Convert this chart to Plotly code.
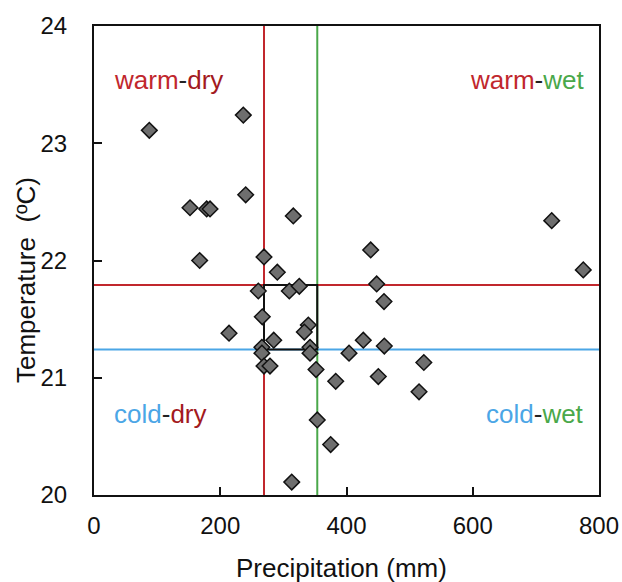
import plotly.graph_objects as go

precip = [87.6, 236.5, 240.3, 152.1, 178.5, 183.8, 315.7, 167.4, 269.3, 290.4,
          438.3, 260.3, 309.4, 325.2, 447.8, 459.4, 266.6, 213.9, 339.5, 333.2,
          284.7, 426.6, 459.9, 266.0, 266.0, 342.2, 342.2, 404.0, 269.3, 278.8,
          351.7, 522.5, 450.4, 382.9, 514.9, 353.7, 374.9, 313.2, 725.1, 775.1]
temp = [23.11, 23.24, 22.56, 22.45, 22.44, 22.44, 22.38, 22.00, 22.03, 21.90,
        22.09, 21.74, 21.74, 21.78, 21.80, 21.65, 21.52, 21.38, 21.45, 21.39,
        21.32, 21.32, 21.27, 21.26, 21.21, 21.26, 21.21, 21.21, 21.10, 21.10,
        21.07, 21.13, 21.01, 20.97, 20.88, 20.64, 20.43, 20.11, 22.34, 21.92]

p_dry = 269.3   # precipitation threshold (dry)
p_wet = 353.7   # precipitation threshold (wet)
t_warm = 21.79  # temperature threshold (warm)
t_cold = 21.24  # temperature threshold (cold)

x_ticks = [0, 200, 400, 600, 800]
y_ticks = [20, 21, 22, 23, 24]

RED = "#c1272d"
DRED = "#a31a1e"
GREEN = "#4aa84a"
BLUE = "#4ba6e6"
FONT = "Liberation Sans, Arial, sans-serif"

fig = go.Figure()
fig.add_trace(go.Scatter(
    x=precip, y=temp, mode="markers",
    marker=dict(symbol="diamond", size=12, color="#6e6e6e",
                line=dict(color="#111111", width=1.5)),
    hoverinfo="x+y", showlegend=False))

shapes = [
    dict(type="line", xref="x", yref="y", x0=p_dry, x1=p_dry, y0=20, y1=24,
         line=dict(color=RED, width=2), layer="below"),
    dict(type="line", xref="x", yref="y", x0=p_wet, x1=p_wet, y0=20, y1=24,
         line=dict(color=GREEN, width=2), layer="below"),
    dict(type="line", xref="x", yref="y", x0=0, x1=800, y0=t_warm, y1=t_warm,
         line=dict(color=RED, width=2), layer="below"),
    dict(type="line", xref="x", yref="y", x0=0, x1=800, y0=t_cold, y1=t_cold,
         line=dict(color=BLUE, width=2), layer="below"),
    dict(type="rect", xref="x", yref="y", x0=p_dry, x1=p_wet, y0=t_cold, y1=t_warm,
         line=dict(color="#111111", width=2), layer="below"),
]

def lab(a, ca, b, cb):
    return (f'<span style="color:{ca}">{a}</span>'
            f'<span style="color:#222222">-</span>'
            f'<span style="color:{cb}">{b}</span>')

W, H = 622, 582
L, R, T, B = 94, 23, 26, 87
pw, ph = W - L - R, H - T - B

def px(xp):
    return (xp - L) / pw

def py(yp):
    return 1 - (yp - T) / ph

annotations = [
    dict(text=lab("warm", RED, "dry", DRED), x=px(112), y=py(80), xref="paper", yref="paper",
         xanchor="left", yanchor="middle", showarrow=False, font=dict(size=26, family=FONT)),
    dict(text=lab("warm", RED, "wet", GREEN), x=px(586), y=py(80), xref="paper", yref="paper",
         xanchor="right", yanchor="middle", showarrow=False, font=dict(size=26, family=FONT)),
    dict(text=lab("cold", BLUE, "dry", DRED), x=px(112), y=py(414), xref="paper", yref="paper",
         xanchor="left", yanchor="middle", showarrow=False, font=dict(size=26, family=FONT)),
    dict(text=lab("cold", BLUE, "wet", GREEN), x=px(586), y=py(414), xref="paper", yref="paper",
         xanchor="right", yanchor="middle", showarrow=False, font=dict(size=26, family=FONT)),
    dict(text="Temperature  (ºC)", x=px(26), y=py(280), xref="paper", yref="paper",
         xanchor="center", yanchor="middle", textangle=-90, showarrow=False,
         font=dict(size=26, family=FONT, color="#111111")),
    dict(text="Precipitation (mm)", x=px(341), y=py(568), xref="paper", yref="paper",
         xanchor="center", yanchor="middle", showarrow=False,
         font=dict(size=26, family=FONT, color="#111111")),
]

fig.update_layout(
    width=W, height=H,
    margin=dict(l=L, r=R, t=T, b=B, pad=0),
    paper_bgcolor="white", plot_bgcolor="white",
    shapes=shapes, annotations=annotations,
    font=dict(family=FONT, color="#111111"),
    xaxis=dict(range=[0, 800], tickvals=x_ticks, ticktext=[str(v) for v in x_ticks],
               ticks="inside", ticklen=8, tickwidth=1.5, tickcolor="#111111",
               showline=True, linecolor="#111111", linewidth=2, mirror=True,
               showgrid=False, zeroline=False, tickfont=dict(size=24, family=FONT),
               ticklabelstandoff=8, automargin=False),
    yaxis=dict(range=[20, 24], tickvals=y_ticks, ticktext=[str(v) for v in y_ticks],
               ticks="inside", ticklen=8, tickwidth=1.5, tickcolor="#111111",
               showline=True, linecolor="#111111", linewidth=2, mirror=True,
               showgrid=False, zeroline=False, tickfont=dict(size=24, family=FONT),
               ticklabelstandoff=20, automargin=False),
)

fig.write_html("out.html")
